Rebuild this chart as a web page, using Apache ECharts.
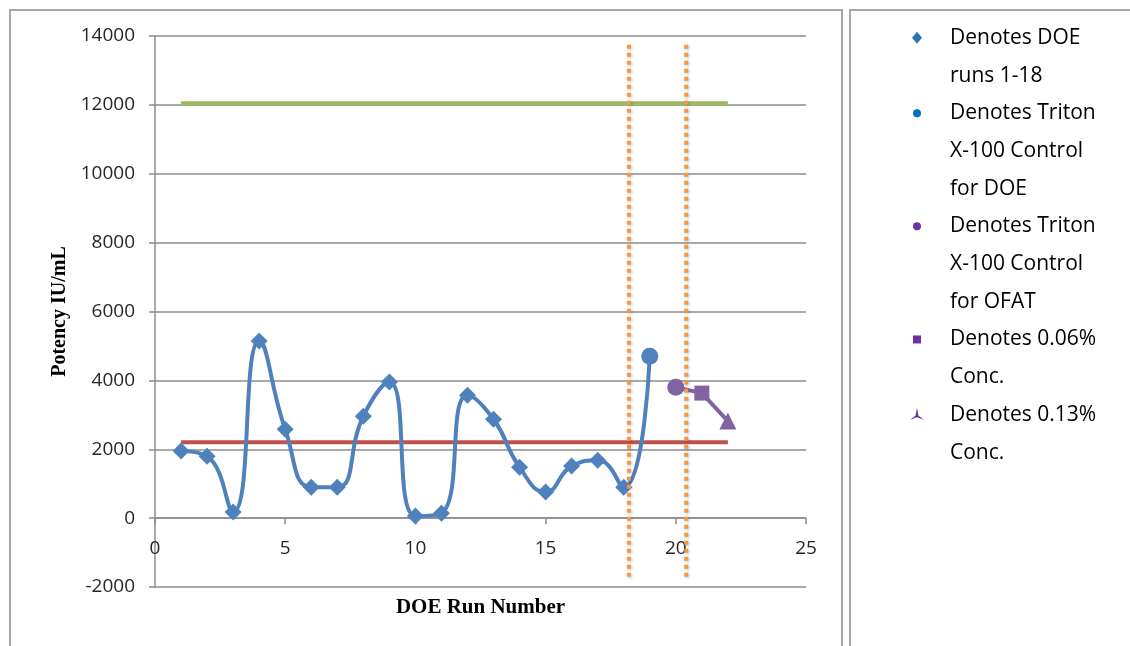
<!DOCTYPE html>
<html>
<head>
<meta charset="utf-8">
<title>Potency by DOE Run</title>
<script src="https://cdn.jsdelivr.net/npm/echarts@6/dist/echarts.min.js"></script>
<style>
  html, body { margin: 0; padding: 0; background: #ffffff; }
  #chart { width: 1130px; height: 646px; }
</style>
</head>
<body>
<div id="chart"></div>
<script>
// DOE runs 1-18 plus the Triton X-100 control for the DOE (run 19)
const doeRuns = [1, 2, 3, 4, 5, 6, 7, 8, 9, 10, 11, 12, 13, 14, 15, 16, 17, 18];
const doePotency = [1950, 1800, 175, 5140, 2580, 900, 900, 2960, 3950, 60, 145, 3570, 2870, 1480, 755, 1510, 1680, 900];
const doeControlRun = 19;
const doeControlPotency = 4700;

// OFAT points: Triton X-100 control, 0.06% conc., 0.13% conc.
const ofatRuns = [20, 21, 22];
const ofatPotency = [3800, 3630, 2820];
const ofatSymbols = ['circle', 'rect', 'triangle'];

// Horizontal reference levels and their span along the run axis
const upperLevel = 12050;
const lowerLevel = 2200;
const levelSpan = [1, 22];

// Vertical dotted dividers
const dividerRuns = [18.2, 20.4];
const dividerRange = [-1700, 13800];

// Axis settings
const xTicks = { min: 0, max: 25, interval: 5 };
const yTicks = { min: -2000, max: 14000, interval: 2000 };

// Legend entries (drawn in the side panel)
const legendLines = [
  ['Denotes DOE', 'runs 1-18'],
  ['Denotes Triton', 'X-100 Control', 'for DOE'],
  ['Denotes Triton', 'X-100 Control', 'for OFAT'],
  ['Denotes 0.06%', 'Conc.'],
  ['Denotes 0.13%', 'Conc.']
];

const blue = '#4f81bd';
const purple = '#8064a2';
const gridGray = '#8c8c8c';
const textColor = '#262626';
const sansFont = '"Open Sans", "Liberation Sans", sans-serif';
const serifFont = '"Liberation Serif", "DejaVu Serif", serif';

const doeData = doeRuns.map((r, i) => ({ value: [r, doePotency[i]], symbol: 'diamond', symbolSize: 17 }));
doeData.push({ value: [doeControlRun, doeControlPotency], symbol: 'circle', symbolSize: 17 });

const ofatData = ofatRuns.map((r, i) => ({
  value: [r, ofatPotency[i]],
  symbol: ofatSymbols[i],
  symbolSize: ofatSymbols[i] === 'rect' ? 15 : 17
}));

// Legend panel graphics
const lineH = 37.7;
const legendTop = 19;
const legendMarkers = [
  { type: 'diamond', color: '#2e74b5' },
  { type: 'circle', color: '#0070c0' },
  { type: 'circle', color: '#7030a0' },
  { type: 'rect', color: '#7030a0' },
  { type: 'star3', color: '#7030a0' }
];
const legendGraphics = [];
let row = 0;
legendLines.forEach((lines, i) => {
  const cy = legendTop + row * lineH + lineH / 2;
  const mx = 917;
  const m = legendMarkers[i];
  let shape;
  if (m.type === 'diamond') {
    shape = { type: 'polygon', shape: { points: [[mx, cy - 6], [mx + 5, cy], [mx, cy + 6], [mx - 5, cy]] } };
  } else if (m.type === 'circle') {
    shape = { type: 'circle', shape: { cx: mx, cy: cy, r: 4 } };
  } else if (m.type === 'rect') {
    shape = { type: 'rect', shape: { x: mx - 4, y: cy - 4, width: 8, height: 8 } };
  } else {
    shape = { type: 'polygon', shape: { points: [[mx, cy - 7], [mx + 1.5, cy + 1], [mx + 7, cy + 5], [mx, cy + 2.5], [mx - 7, cy + 5], [mx - 1.5, cy + 1]] } };
  }
  shape.style = { fill: m.color };
  legendGraphics.push(shape);
  legendGraphics.push({
    type: 'text',
    x: 950,
    y: legendTop + row * lineH,
    style: {
      text: lines.join('\n'),
      font: '21px ' + sansFont,
      lineHeight: lineH,
      fill: '#000000',
      verticalAlign: 'top'
    }
  });
  row += lines.length;
});

const chart = echarts.init(document.getElementById('chart'), null, { renderer: 'canvas' });

chart.setOption({
  backgroundColor: '#ffffff',
  animation: false,
  grid: { left: 155, right: 324, top: 36, bottom: 59, containLabel: false, outerBoundsMode: 'none' },
  xAxis: {
    type: 'value',
    min: xTicks.min,
    max: xTicks.max,
    interval: xTicks.interval,
    name: 'DOE Run Number',
    nameLocation: 'middle',
    nameGap: 10,
    nameTextStyle: { fontFamily: serifFont, fontWeight: 'bold', fontSize: 21, color: '#000000' },
    axisLine: { onZero: true, lineStyle: { color: gridGray, width: 1.5 } },
    axisTick: { show: true, length: 6, lineStyle: { color: gridGray, width: 1.5 } },
    axisLabel: { margin: -48, fontFamily: sansFont, fontSize: 19, color: textColor },
    splitLine: { show: false }
  },
  yAxis: {
    type: 'value',
    min: yTicks.min,
    max: yTicks.max,
    interval: yTicks.interval,
    name: 'Potency IU/mL',
    nameLocation: 'middle',
    nameGap: 84,
    nameTextStyle: { fontFamily: serifFont, fontWeight: 'bold', fontSize: 20, color: '#000000' },
    axisLine: { show: true, onZero: false, lineStyle: { color: gridGray, width: 1.5 } },
    axisTick: { show: true, length: 6, lineStyle: { color: gridGray, width: 1.5 } },
    axisLabel: { margin: 20, fontFamily: sansFont, fontSize: 19, color: textColor, formatter: (v) => String(v) },
    splitLine: { show: true, lineStyle: { color: gridGray, width: 1.5 } }
  },
  series: [
    {
      name: 'Upper level',
      type: 'line',
      data: [[levelSpan[0], upperLevel], [levelSpan[1], upperLevel]],
      symbol: 'none',
      lineStyle: { color: '#9bbb59', width: 4 },
      z: 3
    },
    {
      name: 'Lower level',
      type: 'line',
      data: [[levelSpan[0], lowerLevel], [levelSpan[1], lowerLevel]],
      symbol: 'none',
      lineStyle: { color: '#c0504d', width: 4 },
      z: 3
    },
    {
      name: 'DOE runs',
      type: 'line',
      data: doeData,
      smooth: 0.5,
      lineStyle: { color: blue, width: 4 },
      itemStyle: { color: blue },
      z: 5
    },
    {
      name: 'OFAT',
      type: 'line',
      data: ofatData,
      lineStyle: { color: purple, width: 4 },
      itemStyle: { color: purple },
      z: 5
    },
    ...dividerRuns.map((r, i) => ({
      name: 'Divider ' + (i + 1),
      type: 'line',
      data: [[r, dividerRange[0]], [r, dividerRange[1]]],
      symbol: 'none',
      lineStyle: {
        color: '#f79646',
        width: 4,
        type: [4, 4],
        shadowColor: 'rgba(0,0,0,0.25)',
        shadowBlur: 3,
        shadowOffsetX: 1,
        shadowOffsetY: 1
      },
      z: 6
    }))
  ],
  graphic: [
    {
      type: 'rect',
      shape: { x: 10, y: 10, width: 832, height: 660 },
      style: { fill: 'none', stroke: '#a6a6a6', lineWidth: 2 },
      silent: true
    },
    {
      type: 'rect',
      shape: { x: 850, y: 10, width: 300, height: 660 },
      style: { fill: 'none', stroke: '#a6a6a6', lineWidth: 2 },
      silent: true
    },
    ...legendGraphics
  ]
});
</script>
</body>
</html>
